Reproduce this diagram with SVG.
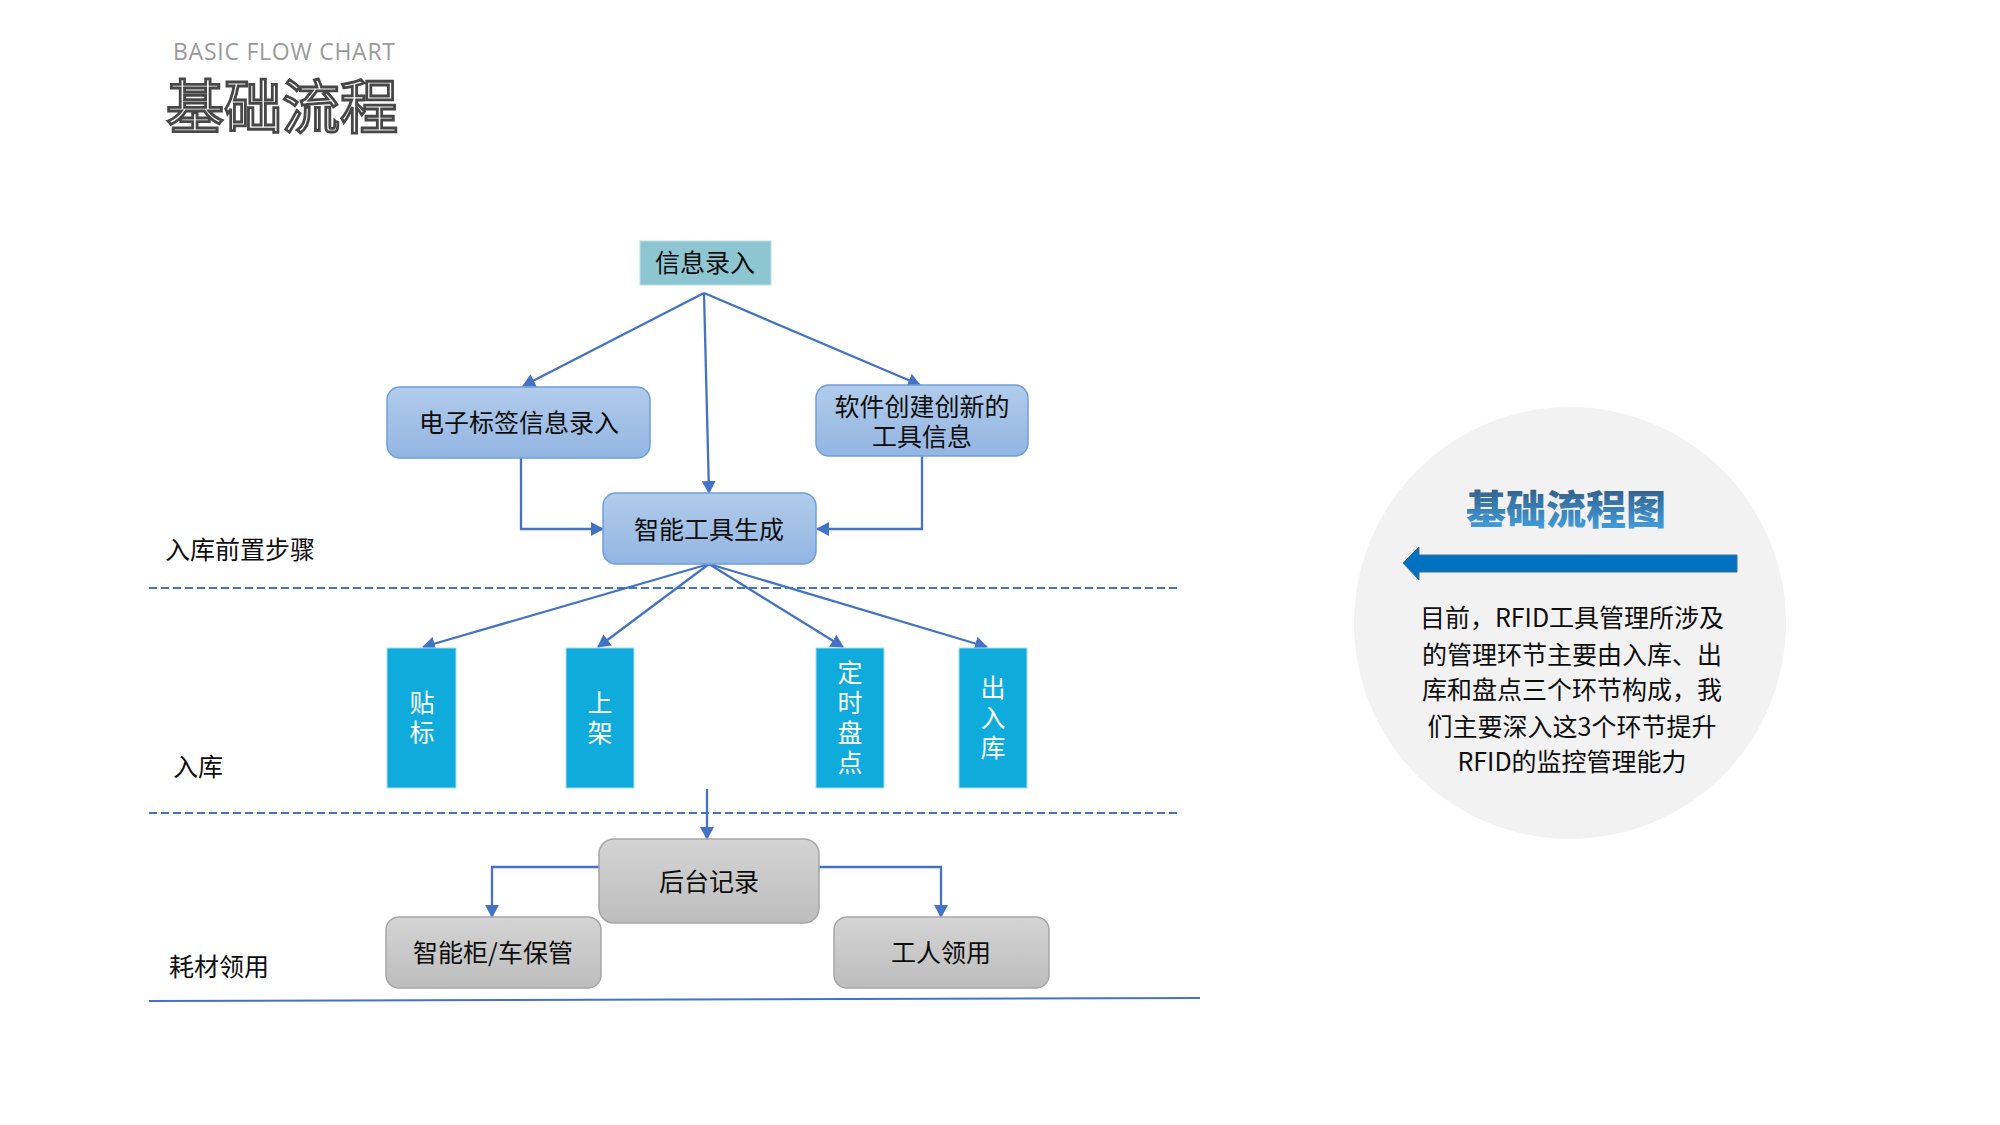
<svg xmlns="http://www.w3.org/2000/svg" width="2000" height="1125" viewBox="0 0 2000 1125">
<style>
  .t{font-family:"Noto Sans CJK SC","Microsoft YaHei",sans-serif;font-size:25px;fill:#0d0d0d}
  .c{text-anchor:middle}
  .w{fill:#ffffff}
  .v{writing-mode:vertical-rl;letter-spacing:5px;text-anchor:middle}
  .ln{fill:none;stroke:#4472C4;stroke-width:2.3}
  .dash{fill:none;stroke:#4472C4;stroke-width:2;stroke-dasharray:8 4}
  .bbox{fill:url(#gBlue);stroke:#6E9FD9;stroke-width:1.5}
  .gbox{fill:url(#gGray);stroke:#A6A6A6;stroke-width:1.5}
  .vbox{fill:#0EABDC;stroke:#A8DDF0;stroke-width:1}
</style>
<defs>
  <linearGradient id="gBlue" x1="0" y1="0" x2="0" y2="1">
    <stop offset="0" stop-color="#B1CCEB"/>
    <stop offset="1" stop-color="#93B5E2"/>
  </linearGradient>
  <linearGradient id="gGray" x1="0" y1="0" x2="0" y2="1">
    <stop offset="0" stop-color="#D4D4D4"/>
    <stop offset="1" stop-color="#BDBDBD"/>
  </linearGradient>
  <linearGradient id="gTitle" x1="0" y1="0" x2="0" y2="1">
    <stop offset="0" stop-color="#2F5077"/>
    <stop offset="1" stop-color="#45A8EA"/>
  </linearGradient>
  <marker id="arr" markerUnits="userSpaceOnUse" markerWidth="14" markerHeight="14" viewBox="0 0 14 14" refX="12" refY="7" orient="auto">
    <path d="M0,0 L13,7 L0,14 Z" fill="#4472C4"/>
  </marker>
</defs>
<rect width="2000" height="1125" fill="#ffffff"/>

<!-- header -->
<text id="header">
  <tspan x="173" y="60" font-family="'Open Sans','Liberation Sans',sans-serif" font-size="23" fill="#9a9a9a" textLength="222">BASIC FLOW CHART</tspan>
  <tspan x="166" y="128" font-family="'Noto Sans CJK SC',sans-serif" font-size="58" fill="#ffffff" stroke="#474747" stroke-width="2.8">基础流程</tspan>
</text>

<!-- lane separators -->
<g id="lanes">
  <line class="dash" x1="149" y1="588" x2="1177" y2="588"/>
  <line class="dash" x1="149" y1="813" x2="1177" y2="813"/>
  <line x1="149" y1="1001" x2="1200" y2="998" stroke="#4472C4" stroke-width="2"/>
  <text class="t" x="165" y="559">入库前置步骤</text>
  <text class="t" x="173" y="776">入库</text>
  <text class="t" x="169" y="976">耗材领用</text>
</g>

<!-- connectors -->
<g id="connectors">
  <line class="ln" x1="704" y1="293" x2="523" y2="386" marker-end="url(#arr)"/>
  <line class="ln" x1="704" y1="293" x2="709" y2="493" marker-end="url(#arr)"/>
  <line class="ln" x1="704" y1="293" x2="920" y2="385" marker-end="url(#arr)"/>
  <polyline class="ln" points="521,458 521,529 603,529" marker-end="url(#arr)"/>
  <polyline class="ln" points="922,456 922,529 817,529" marker-end="url(#arr)"/>
  <line class="ln" x1="709" y1="564" x2="423" y2="647" marker-end="url(#arr)"/>
  <line class="ln" x1="709" y1="564" x2="598" y2="647" marker-end="url(#arr)"/>
  <line class="ln" x1="709" y1="564" x2="843" y2="647" marker-end="url(#arr)"/>
  <line class="ln" x1="709" y1="564" x2="987" y2="647" marker-end="url(#arr)"/>
  <line class="ln" x1="707" y1="789" x2="707" y2="839" marker-end="url(#arr)"/>
  <polyline class="ln" points="599,867 492,867 492,917" marker-end="url(#arr)"/>
  <polyline class="ln" points="813,867 941,867 941,917" marker-end="url(#arr)"/>
</g>

<!-- nodes -->
<g id="n-info">
  <rect x="640" y="241" width="131" height="44" fill="#8DC6D0" stroke="#B9DEE5" stroke-width="1"/>
  <text class="t c" x="705" y="272">信息录入</text>
</g>
<g id="n-rfid">
  <rect class="bbox" x="387" y="387" width="263" height="71" rx="13"/>
  <text class="t c" x="519" y="432">电子标签信息录入</text>
</g>
<g id="n-soft">
  <rect class="bbox" x="816" y="385" width="212" height="71" rx="13"/>
  <text class="t c"><tspan x="922" y="416">软件创建创新的</tspan><tspan x="922" y="446">工具信息</tspan></text>
</g>
<g id="n-gen">
  <rect class="bbox" x="603" y="493" width="213" height="71" rx="13"/>
  <text class="t c" x="709" y="539">智能工具生成</text>
</g>
<g id="n-tag">
  <rect class="vbox" x="387" y="648" width="69" height="140"/>
  <text class="t w v" x="422" y="720">贴标</text>
</g>
<g id="n-shelf">
  <rect class="vbox" x="566" y="648" width="68" height="140"/>
  <text class="t w v" x="600" y="720">上架</text>
</g>
<g id="n-check">
  <rect class="vbox" x="816" y="648" width="68" height="140"/>
  <text class="t w v" x="850" y="720">定时盘点</text>
</g>
<g id="n-io">
  <rect class="vbox" x="959" y="648" width="68" height="140"/>
  <text class="t w v" x="993" y="720">出入库</text>
</g>
<g id="n-log">
  <rect class="gbox" x="599" y="839" width="220" height="84" rx="15"/>
  <text class="t c" x="709" y="891">后台记录</text>
</g>
<g id="n-cab">
  <rect class="gbox" x="386" y="917" width="215" height="71" rx="13"/>
  <text class="t c" x="493" y="962">智能柜/车保管</text>
</g>
<g id="n-worker">
  <rect class="gbox" x="834" y="917" width="215" height="71" rx="13"/>
  <text class="t c" x="941" y="962">工人领用</text>
</g>

<!-- side panel -->
<g id="panel">
  <circle cx="1570" cy="623" r="216" fill="#F2F2F2"/>
  <text x="1566" y="524" text-anchor="middle" font-family="'Noto Sans CJK SC',sans-serif" font-size="40" font-weight="900" fill="url(#gTitle)">基础流程图</text>
  <path d="M1403,563 L1419,547 L1419,555 L1737,555 L1737,572 L1419,572 L1419,580 Z" fill="#0070C0" stroke="#41719C" stroke-width="1"/>
  <text class="t c" x="1572" y="627">目前，RFID工具管理所涉及</text>
  <text class="t c" x="1572" y="664">的管理环节主要由入库、出</text>
  <text class="t c" x="1572" y="699">库和盘点三个环节构成，我</text>
  <text class="t c" x="1572" y="736">们主要深入这3个环节提升</text>
  <text class="t c" x="1572" y="771">RFID的监控管理能力</text>
</g>
</svg>
